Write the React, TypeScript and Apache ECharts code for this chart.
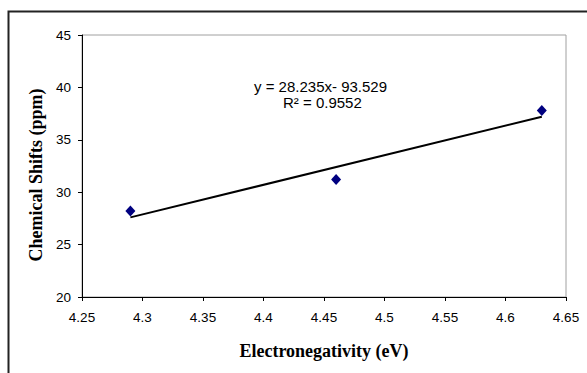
import React, { useEffect, useRef } from "react";
import * as echarts from "echarts";

const electronegativity = [4.29, 4.46, 4.63];
const chemicalShifts = [28.2, 31.2, 37.8];
const slope = 28.235;
const intercept = -93.529;
const trendX = [4.29, 4.63];
const equationText = "y = 28.235x- 93.529";
const r2Text = "R² = 0.9552";

export default function App() {
  const ref = useRef<HTMLDivElement>(null);
  useEffect(() => {
    const chart = echarts.init(ref.current!, null, { renderer: "svg" });
    const trendData = trendX.map((x) => [x, slope * x + intercept]);
    chart.setOption({
      animation: false,
      backgroundColor: "#ffffff",
      grid: { left: 82, top: 35, right: 21, bottom: 76, show: true, borderColor: "#a0a0a0", borderWidth: 1 },
      xAxis: {
        type: "value",
        min: 4.25,
        max: 4.65,
        interval: 0.05,
        name: "Electronegativity (eV)",
        nameLocation: "middle",
        nameGap: 45,
        nameTextStyle: { fontFamily: "Liberation Serif", fontWeight: "bold", fontSize: 18, color: "#000" },
        axisLine: { onZero: false, lineStyle: { color: "#000", width: 1 } },
        axisTick: { show: true, inside: false, length: 4, lineStyle: { color: "#000" } },
        axisLabel: {
          margin: 13,
          fontFamily: "Liberation Sans",
          fontSize: 13.5,
          color: "#000",
          formatter: (v: number) => String(parseFloat(v.toFixed(2))),
        },
        splitLine: { show: false },
      },
      yAxis: {
        type: "value",
        min: 20,
        max: 45,
        interval: 5,
        name: "Chemical Shifts (ppm)",
        nameLocation: "middle",
        nameGap: 36,
        nameTextStyle: {
          fontFamily: "Liberation Serif",
          fontWeight: "bold",
          fontSize: 18,
          color: "#000",
          padding: [0, 18, 0, 0],
        },
        axisLine: { show: true, onZero: false, lineStyle: { color: "#000", width: 1 } },
        axisTick: { show: true, inside: false, length: 4, lineStyle: { color: "#000" } },
        axisLabel: { margin: 11, fontFamily: "Liberation Sans", fontSize: 13.5, color: "#000" },
        splitLine: { show: false },
      },
      series: [
        {
          type: "line",
          data: trendData,
          symbol: "none",
          lineStyle: { color: "#000", width: 2 },
          z: 2,
        },
        {
          type: "scatter",
          data: electronegativity.map((x, i) => [x, chemicalShifts[i]]),
          symbol: "diamond",
          symbolSize: [10, 11],
          itemStyle: { color: "#000080", opacity: 1 },
          z: 3,
        },
      ],
      graphic: [
        {
          type: "rect",
          left: 6,
          top: 9,
          shape: { width: 620, height: 420 },
          style: { fill: "none", stroke: "#222", lineWidth: 2 },
          silent: true,
        },
        {
          type: "text",
          left: 254,
          top: 79,
          style: { text: equationText, fontFamily: "Liberation Sans", fontSize: 15, fill: "#000" },
        },
        {
          type: "text",
          left: 283,
          top: 95,
          style: { text: r2Text, fontFamily: "Liberation Sans", fontSize: 15, fill: "#000" },
        },
      ],
    });
    return () => chart.dispose();
  }, []);
  return (
    <div
      ref={ref}
      style={{ position: "fixed", left: 0, top: 0, width: 587, height: 373, background: "#fff" }}
    />
  );
}
